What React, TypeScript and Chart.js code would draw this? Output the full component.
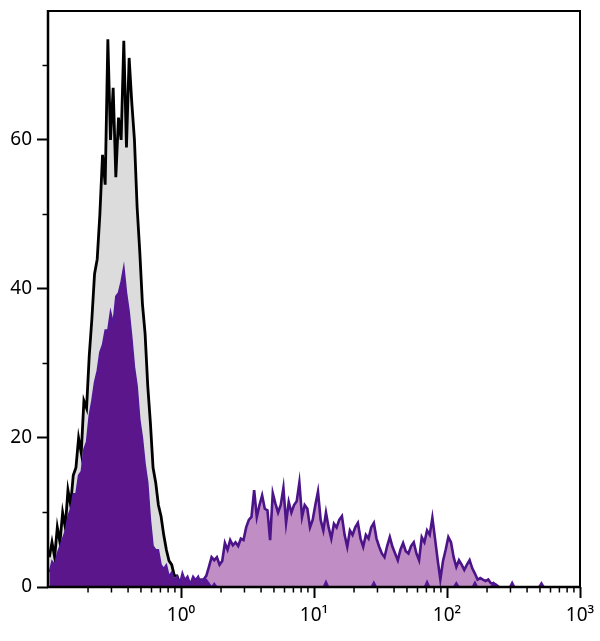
import React, { useEffect, useRef } from "react";
import { Chart, registerables } from "chart.js";

Chart.register(...registerables);

// Histogram bins: log10 bins of width 0.02 decade starting at 10^-1
const BIN_START_LOG = -1;
const BIN_STEP_LOG = 0.02;

// Isotype control (black line, gray fill), bins from 0
const controlCounts = [
  4, 6, 4, 8, 6, 10, 8, 13, 11, 15,
  16, 20, 18, 25, 24, 31, 36, 42, 44, 50,
  58, 54, 73.5, 60, 67, 55, 63, 60, 73.3, 59,
  71, 65, 60, 51, 45, 38, 34, 27, 22, 16,
  14, 11, 9.5, 7, 5, 3.5, 3, 1.5, 1.5, 0.5,
  0.8, 0,
];

// Negative population (dark purple), bins from 0
const negativeCounts = [
  2, 3.5, 3, 4.5, 5.5, 6.5, 7.5, 9.5, 10.5, 12.5,
  12.5, 15, 15.5, 18.5, 19.5, 23, 25, 27.5, 29, 31.5,
  32.5, 34.5, 34.5, 37, 35.5, 39, 39.5, 41, 43, 39.5,
  37, 33.5, 29.5, 27, 22.5, 20, 16.5, 14, 9, 5.5,
  5, 5, 3, 2.5, 3, 1.5, 2, 1, 1.5, 0.5,
  2, 1, 1.5, 0.5, 1.5, 1, 1.5, 0.5, 1, 1,
  0.5, 0, 0.5, 0, 0, 0, 0, 0, 0, 0,
  0, 0, 0, 0, 0, 0, 0, 0, 0, 0,
  0, 0, 0, 0, 0, 0, 0, 0, 0, 0,
  0, 0, 0, 0, 0, 0, 0, 0, 0, 0,
  0, 0, 0, 0, 0.8, 0, 0, 0, 0, 0,
  0, 0, 0, 0, 0, 0, 0, 0, 0, 0,
  0, 0, 0.7, 0, 0, 0, 0, 0, 0, 0,
  0, 0, 0, 0, 0, 0, 0, 0, 0, 0,
  0, 0, 0.8, 0, 0, 0, 0, 0, 0, 0,
  0, 0, 0, 0.6, 0, 0, 0, 0, 0, 0,
  0.7, 0, 0, 0, 0, 0, 0, 0.6, 0, 0,
  0, 0, 0, 0, 0.7, 0, 0, 0, 0, 0,
  0, 0, 0, 0, 0, 0.6, 0,
];

// Positive population (light purple fill, dark purple line), bins from 55
const POSITIVE_START_BIN = 55;
const positiveCounts = [
  0, 0.5, 1, 1, 1.5, 2.7, 4, 3.6, 4, 3,
  3.5, 5.9, 5, 6.3, 5.6, 6, 5.5, 6.5, 6.3, 8,
  9, 9.4, 13, 9.4, 11, 12.3, 10.5, 10.3, 6.3, 12.6,
  11.2, 10, 11, 13.3, 8.6, 11.4, 10, 11, 11.5, 14,
  9.4, 11, 10.5, 8, 9, 11, 12.8, 9, 7.6, 10,
  8, 6.5, 8.5, 8, 9, 9.5, 7, 5.4, 7.6, 7,
  8, 8.6, 6.5, 5.4, 7, 6.5, 8, 8.6, 6.5, 5.4,
  4.5, 4, 5.5, 6.7, 5.4, 4.5, 3.6, 5, 5.9, 4.8,
  4.5, 5.5, 6, 4.5, 3.6, 6.7, 6, 7.6, 7, 9.3,
  6.5, 3.6, 1, 3.5, 5, 6.7, 6, 4, 2.7, 3.6,
  3, 2.3, 3, 3.6, 2.5, 1.8, 1, 1.2, 1, 0.8,
  1, 0.5, 0.5, 0.3, 0,
];

const xMajorTicks = [1, 10, 100, 1000];
const xTickLabels = ["10\u2070", "10\u00B9", "10\u00B2", "10\u00B3"];
const xDecades = [0.1, 1, 10, 100];
const xMinorMultipliers = [2, 3, 4, 5, 6, 7, 8, 9];
const yMajorTicks = [0, 20, 40, 60];
const yTickLabels = ["0", "20", "40", "60"];
const yMinorTicks = [10, 30, 50, 70];

const X_MIN = 0.1;
const X_MAX = 1000;
const Y_MAX = 77.3;

const binCenter = (i: number) => Math.pow(10, BIN_START_LOG + (i + 0.5) * BIN_STEP_LOG);
const toPoints = (counts: number[], start: number) =>
  counts.map((c, j) => ({ x: binCenter(start + j), y: c }));

const FONT = "'Noto Sans', 'DejaVu Sans', sans-serif";

const framePlugin = {
  id: "frame",
  afterDatasetsDraw(chart: any) {
    const { ctx, chartArea, scales } = chart;
    const { left, right, top, bottom } = chartArea;
    ctx.save();
    ctx.strokeStyle = "#000";
    ctx.lineCap = "butt";
    ctx.lineWidth = 1.5;
    ctx.beginPath();
    for (const d of xDecades) {
      for (const m of xMinorMultipliers) {
        const px = scales.x.getPixelForValue(d * m);
        ctx.moveTo(px, bottom);
        ctx.lineTo(px, bottom + 5.5);
      }
    }
    for (const v of yMinorTicks) {
      const py = scales.y.getPixelForValue(v);
      ctx.moveTo(left, py);
      ctx.lineTo(left - 5.5, py);
    }
    ctx.stroke();
    ctx.lineWidth = 2;
    ctx.beginPath();
    ctx.moveTo(left, top);
    ctx.lineTo(right, top);
    ctx.lineTo(right, bottom);
    ctx.stroke();
    ctx.lineWidth = 2.5;
    ctx.beginPath();
    ctx.moveTo(left, top - 1);
    ctx.lineTo(left, bottom);
    ctx.lineTo(right + 1, bottom);
    ctx.stroke();
    ctx.restore();
  },
};

export default function App() {
  const canvasRef = useRef<HTMLCanvasElement | null>(null);

  useEffect(() => {
    if (!canvasRef.current) return;
    const chart = new Chart(canvasRef.current, {
      type: "line",
      data: {
        datasets: [
          {
            label: "Negative",
            data: toPoints(negativeCounts, 0),
            borderColor: "#52189a",
            backgroundColor: "#5a168a",
            borderWidth: 1.5,
            fill: "origin",
            pointRadius: 0,
            tension: 0,
            order: 1,
          },
          {
            label: "Positive",
            data: toPoints(positiveCounts, POSITIVE_START_BIN),
            borderColor: "#4b1488",
            backgroundColor: "#c18dc5",
            borderWidth: 2.6,
            fill: "origin",
            pointRadius: 0,
            tension: 0,
            order: 2,
          },
          {
            label: "Control",
            data: toPoints(controlCounts, 0),
            borderColor: "#000000",
            backgroundColor: "#dcdcdc",
            borderWidth: 2.8,
            fill: "origin",
            pointRadius: 0,
            tension: 0,
            order: 3,
          },
        ],
      },
      options: {
        animation: false,
        responsive: true,
        maintainAspectRatio: false,
        layout: { padding: { top: 11, right: 20, left: 0, bottom: 0 } },
        plugins: {
          legend: { display: false },
          tooltip: { enabled: false },
        },
        scales: {
          x: {
            type: "logarithmic",
            min: X_MIN,
            max: X_MAX,
            afterBuildTicks: (scale: any) => {
              scale.ticks = xMajorTicks.map((v) => ({ value: v, major: true }));
            },
            afterFit: (scale: any) => {
              scale.height = 54;
              scale.paddingLeft = 0;
              scale.paddingRight = 0;
            },
            border: { display: false },
            grid: {
              drawOnChartArea: false,
              drawTicks: true,
              tickLength: 11,
              tickWidth: 2,
              tickColor: "#000",
            },
            ticks: {
              autoSkip: false,
              maxRotation: 0,
              padding: 6,
              color: "#000",
              font: { family: FONT, size: 19 },
              callback: (_v: any, i: number) => xTickLabels[i],
            },
          },
          y: {
            type: "linear",
            min: 0,
            max: Y_MAX,
            afterBuildTicks: (scale: any) => {
              scale.ticks = yMajorTicks.map((v) => ({ value: v }));
            },
            afterFit: (scale: any) => {
              scale.width = 48;
              scale.paddingTop = 0;
              scale.paddingBottom = 0;
            },
            border: { display: false },
            grid: {
              drawOnChartArea: false,
              drawTicks: true,
              tickLength: 11,
              tickWidth: 2,
              tickColor: "#000",
            },
            ticks: {
              padding: 5,
              color: "#000",
              font: { family: FONT, size: 19 },
              callback: (_v: any, i: number) => yTickLabels[i],
            },
          },
        },
      },
      plugins: [framePlugin],
    });
    return () => chart.destroy();
  }, []);

  return (
    <div style={{ position: "fixed", left: 0, top: 0, width: 600, height: 641, background: "#fff" }}>
      <canvas ref={canvasRef} />
    </div>
  );
}
